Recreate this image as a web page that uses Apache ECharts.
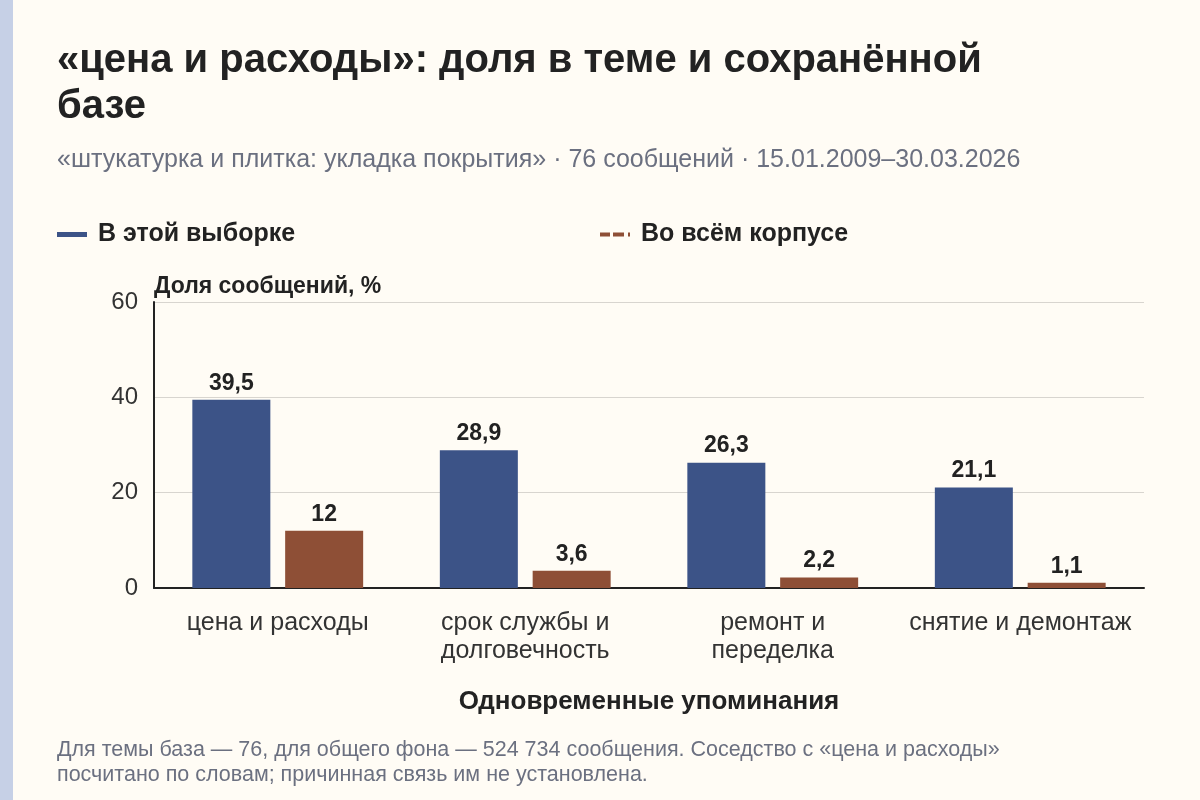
<!DOCTYPE html>
<html>
<head>
<meta charset="utf-8">
<script src="https://cdn.jsdelivr.net/npm/echarts@6/dist/echarts.min.js"></script>
<style>
  html, body { margin: 0; padding: 0; background: #fffcf5; }
  #chart { width: 1200px; height: 800px; }
</style>
</head>
<body>
<div id="chart"></div>
<script>
var categories = ['цена и расходы', 'срок службы и\nдолговечность', 'ремонт и\nпеределка', 'снятие и демонтаж'];
var sampleValues = [39.5, 28.9, 26.3, 21.1];
var corpusValues = [12, 3.6, 2.2, 1.1];
var yTicks = [0, 20, 40, 60];

var FONT = '"Liberation Sans", Arial, sans-serif';
var BLUE = '#3c5387';
var BROWN = '#8e4f36';

function fmt(v) {
  return String(v).replace('.', ',');
}

var chart = echarts.init(document.getElementById('chart'));
var option = {
  backgroundColor: '#fffcf5',
  textStyle: { fontFamily: FONT },
  title: [{
    text: '«цена и расходы»: доля в теме и сохранённой\nбазе',
    left: 52, top: 33,
    textStyle: { fontFamily: FONT, fontSize: 40, fontWeight: 'bold', color: '#222', lineHeight: 46 }
  }, {
    text: '«штукатурка и плитка: укладка покрытия» · 76 сообщений · 15.01.2009–30.03.2026',
    left: 52, top: 143,
    textStyle: { fontFamily: FONT, fontSize: 25, fontWeight: 'normal', color: '#6b7080' }
  }, {
    text: 'Для темы база — 76, для общего фона — 524 734 сообщения. Соседство с «цена и расходы»\nпосчитано по словам; причинная связь им не установлена.',
    left: 52, top: 733,
    textStyle: { fontFamily: FONT, fontSize: 21.5, fontWeight: 'normal', color: '#6b7080', lineHeight: 25 }
  }],
  legend: [{
    data: ['В этой выборке'],
    left: 52, top: 217,
    icon: 'rect',
    itemWidth: 30, itemHeight: 5,
    textStyle: { fontFamily: FONT, fontSize: 25, fontWeight: 'bold', color: '#222', padding: [0, 0, 0, 6] }
  }, {
    data: [{ name: 'Во всём корпусе', icon: 'path://M0,0h10v4h-10z M13,0h11v4h-11z M28,0h2v4h-2z' }],
    left: 595, top: 217,
    itemWidth: 30, itemHeight: 5,
    textStyle: { fontFamily: FONT, fontSize: 25, fontWeight: 'bold', color: '#222', padding: [0, 0, 0, 6] }
  }],
  grid: { left: 154, right: 56, top: 302, bottom: 212, containLabel: false },
  xAxis: {
    type: 'category',
    data: categories,
    name: 'Одновременные упоминания',
    nameLocation: 'middle',
    nameGap: 101,
    nameTextStyle: { fontFamily: FONT, fontSize: 26, fontWeight: 'bold', color: '#222' },
    axisLine: { lineStyle: { color: '#222', width: 2 } },
    axisTick: { alignWithLabel: true, length: 6, lineStyle: { color: '#222' } },
    axisLabel: { fontFamily: FONT, fontSize: 25, color: '#333', margin: 21, lineHeight: 28, interval: 0 }
  },
  yAxis: {
    type: 'value',
    min: yTicks[0], max: yTicks[yTicks.length - 1], interval: 20,
    name: 'Доля сообщений, %',
    nameLocation: 'end',
    nameGap: 4,
    nameTextStyle: { fontFamily: FONT, fontSize: 23, fontWeight: 'bold', color: '#222', align: 'left' },
    axisLine: { show: true, lineStyle: { color: '#222', width: 2 } },
    axisTick: { show: false },
    axisLabel: { fontFamily: FONT, fontSize: 24, color: '#333', margin: 16 },
    splitLine: { lineStyle: { color: '#d8d5cf', width: 1 } }
  },
  series: [{
    name: 'В этой выборке',
    type: 'bar',
    data: sampleValues,
    barWidth: 78,
    barGap: '19%',
    itemStyle: { color: BLUE },
    label: {
      show: true, position: 'top', distance: 5,
      fontFamily: FONT, fontSize: 23, fontWeight: 'bold', color: '#222',
      formatter: function(p) { return fmt(p.value); }
    }
  }, {
    name: 'Во всём корпусе',
    type: 'bar',
    data: corpusValues,
    barWidth: 78,
    itemStyle: { color: BROWN },
    label: {
      show: true, position: 'top', distance: 5,
      fontFamily: FONT, fontSize: 23, fontWeight: 'bold', color: '#222',
      formatter: function(p) { return fmt(p.value); }
    }
  }],
  graphic: [{
    type: 'rect',
    left: 0, top: 0,
    shape: { width: 13, height: 800 },
    style: { fill: '#c6d0e6' }
  }]
};
chart.setOption(option);
</script>
</body>
</html>
